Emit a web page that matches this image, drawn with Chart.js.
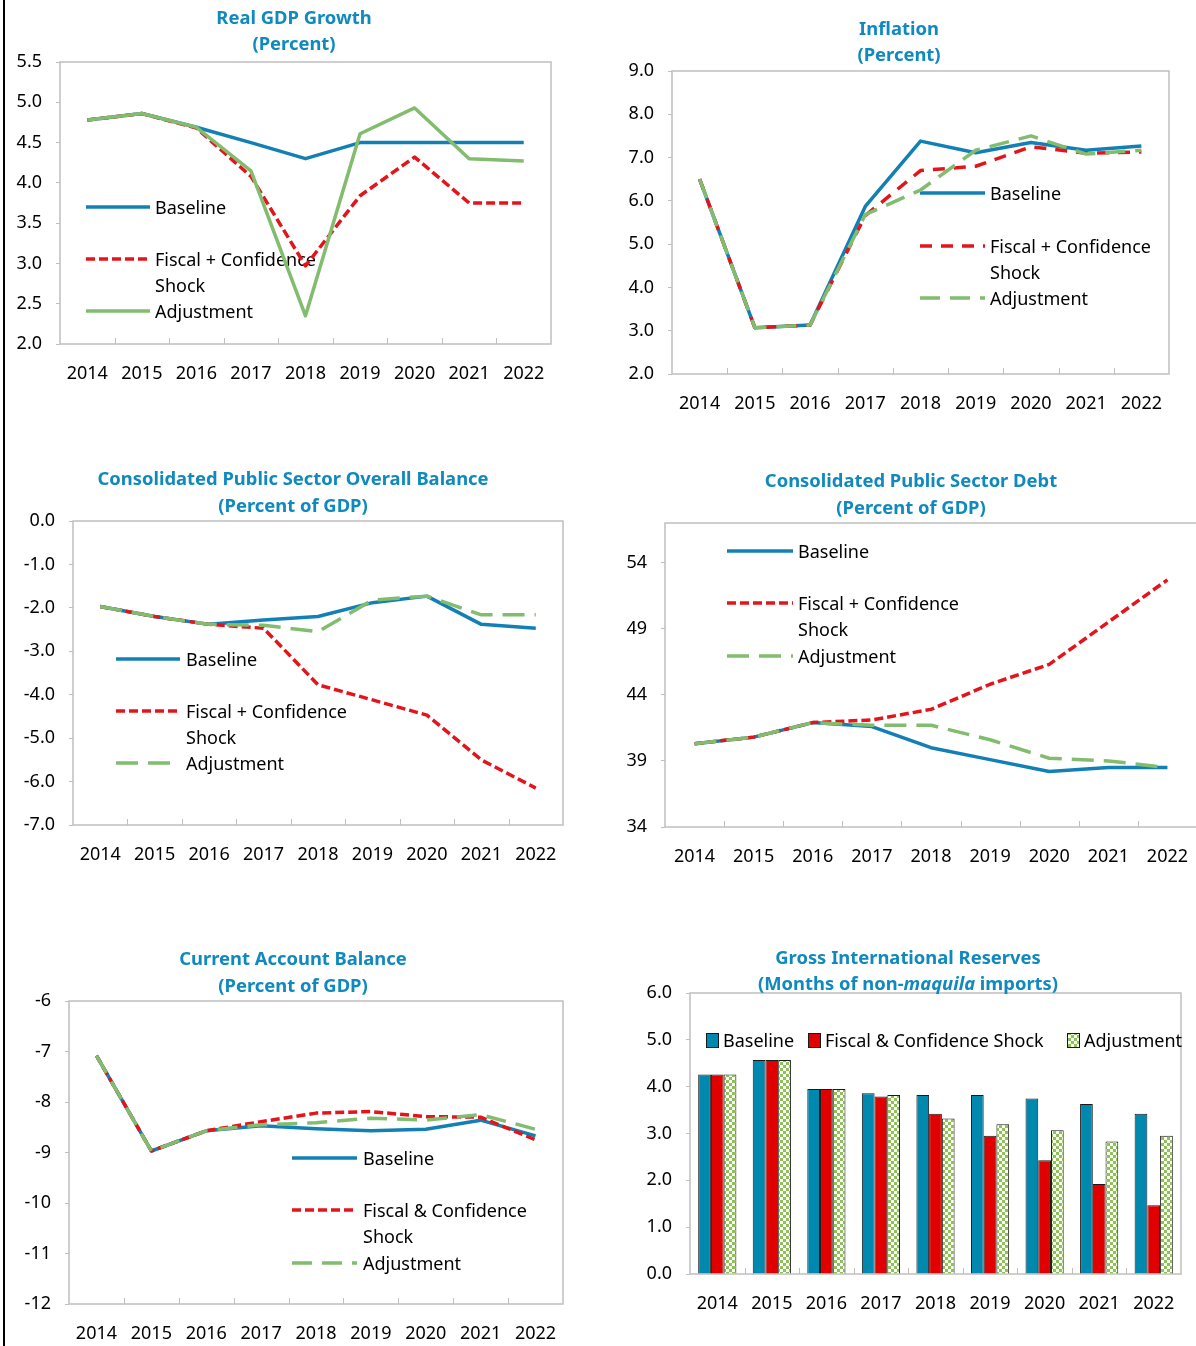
<!DOCTYPE html>
<html>
<head>
<meta charset="utf-8">
<script src="https://cdn.jsdelivr.net/npm/chart.js@4.4.1/dist/chart.umd.min.js"></script>
<style>
  body { margin: 0; background: #fff; width: 1196px; height: 1346px; overflow: hidden; position: relative; }
  canvas { position: absolute; left: 0; top: 0; }
  #edge { position: absolute; left: 3px; top: 0; width: 2px; height: 1346px; background: #000; }
</style>
</head>
<body>
<div id="edge"></div>
<canvas id="gdp" width="1210" height="1346"></canvas>
<canvas id="infl" width="1210" height="1346"></canvas>
<canvas id="bal" width="1210" height="1346"></canvas>
<canvas id="debt" width="1210" height="1346"></canvas>
<canvas id="ca" width="1210" height="1346"></canvas>
<canvas id="res" width="1210" height="1346"></canvas>
<script>
// ---- data ----
const years = ['2014', '2015', '2016', '2017', '2018', '2019', '2020', '2021', '2022'];

const namesPlus = ['Baseline', ['Fiscal + Confidence', 'Shock'], 'Adjustment'];
const namesAmp = ['Baseline', ['Fiscal & Confidence', 'Shock'], 'Adjustment'];
const namesBar = ['Baseline', 'Fiscal & Confidence Shock', 'Adjustment'];

// Real GDP growth (percent)
const gdpBase = [4.78, 4.86, 4.69, 4.50, 4.30, 4.50, 4.50, 4.50, 4.50];
const gdpShock = [4.78, 4.86, 4.68, 4.08, 2.97, 3.84, 4.32, 3.75, 3.75];
const gdpAdj = [4.78, 4.86, 4.69, 4.15, 2.35, 4.61, 4.93, 4.30, 4.27];
const gdpTicks = [2.0, 2.5, 3.0, 3.5, 4.0, 4.5, 5.0, 5.5];

// Inflation (percent)
const inflBase = [6.50, 3.07, 3.13, 5.87, 7.38, 7.11, 7.35, 7.17, 7.27];
const inflShock = [6.50, 3.07, 3.13, 5.66, 6.70, 6.80, 7.25, 7.10, 7.13];
const inflAdj = [6.50, 3.07, 3.13, 5.68, 6.25, 7.17, 7.50, 7.08, 7.17];
const inflTicks = [2, 3, 4, 5, 6, 7, 8, 9];

// Consolidated public sector overall balance (percent of GDP)
const balBase = [-1.97, -2.20, -2.38, -2.28, -2.20, -1.88, -1.73, -2.38, -2.47];
const balShock = [-1.97, -2.20, -2.38, -2.47, -3.77, -4.12, -4.47, -5.50, -6.15];
const balAdj = [-1.97, -2.20, -2.38, -2.40, -2.55, -1.82, -1.73, -2.16, -2.16];
const balTicks = [-7, -6, -5, -4, -3, -2, -1, 0];

// Consolidated public sector debt (percent of GDP)
const debtBase = [40.3, 40.8, 41.9, 41.6, 40.0, 39.1, 38.2, 38.5, 38.5];
const debtShock = [40.3, 40.8, 41.9, 42.1, 42.9, 44.8, 46.3, 49.5, 52.7];
const debtAdj = [40.3, 40.8, 41.9, 41.7, 41.7, 40.6, 39.2, 39.0, 38.5];
const debtTicks = [34, 39, 44, 49, 54];

// Current account balance (percent of GDP)
const caBase = [-7.08, -8.97, -8.57, -8.47, -8.53, -8.57, -8.54, -8.36, -8.67];
const caShock = [-7.08, -8.97, -8.57, -8.39, -8.22, -8.19, -8.29, -8.30, -8.75];
const caAdj = [-7.08, -8.97, -8.57, -8.45, -8.41, -8.32, -8.36, -8.25, -8.54];
const caTicks = [-12, -11, -10, -9, -8, -7, -6];

// Gross international reserves (months of non-maquila imports)
const resBase = [4.26, 4.57, 3.95, 3.86, 3.82, 3.82, 3.75, 3.63, 3.42];
const resShock = [4.26, 4.57, 3.95, 3.79, 3.42, 2.95, 2.43, 1.92, 1.47];
const resAdj = [4.26, 4.57, 3.95, 3.82, 3.32, 3.20, 3.07, 2.83, 2.95];
const resTicks = [0, 1, 2, 3, 4, 5, 6];

// ---- look ----
const FONT = '"Noto Sans", sans-serif';
const TITLE_COL = '#1089BE';
const BLUE = '#1380B5', RED = '#E4141B', GREEN = '#82BC6E';
const FRAME = '#BFBFBF';
const CW = 1210, CH = 1346, YW = 60, XH = 42;

function checker() {
  const c = document.createElement('canvas');
  c.width = c.height = 6;
  const g = c.getContext('2d');
  g.fillStyle = '#fff'; g.fillRect(0, 0, 6, 6);
  g.fillStyle = '#8DC355'; g.fillRect(0, 0, 3, 3); g.fillRect(3, 3, 3, 3);
  return g.createPattern(c, 'repeat');
}

// frame, inward x ticks, title and legends
const deco = {
  id: 'deco',
  beforeDatasetsDraw(chart, args, o) {
    const ctx = chart.ctx, a = chart.chartArea, xs = chart.scales.x;
    ctx.save();
    ctx.strokeStyle = FRAME; ctx.lineWidth = 1.5;
    ctx.strokeRect(a.left, a.top, a.right - a.left, a.bottom - a.top);
    ctx.lineWidth = 1;
    for (let i = 0; i < years.length - 1; i++) {
      const px = Math.round((xs.getPixelForValue(i) + xs.getPixelForValue(i + 1)) / 2) + 0.5;
      ctx.beginPath(); ctx.moveTo(px, a.bottom); ctx.lineTo(px, a.bottom - 6); ctx.stroke();
    }
    ctx.font = '18px ' + FONT; ctx.fillStyle = '#000'; ctx.textBaseline = 'middle';
    if (o.legend) {
      const L = o.legend;
      chart.data.datasets.forEach((ds, i) => {
        const y = L.ys[i];
        ctx.save();
        ctx.strokeStyle = ds.borderColor; ctx.lineWidth = ds.borderWidth;
        ctx.setLineDash(ds.borderDash || []);
        ctx.beginPath(); ctx.moveTo(L.x1, y); ctx.lineTo(L.x2, y); ctx.stroke();
        ctx.restore();
        const lines = [].concat(L.names[i]);
        lines.forEach((t, k) => ctx.fillText(t, L.tx, y + 2 + k * 26));
      });
    }
    if (o.boxes) {
      const B = o.boxes;
      chart.data.datasets.forEach((ds, i) => {
        ctx.fillStyle = ds.backgroundColor;
        ctx.fillRect(B.bx[i], B.y - 7, 12, 14);
        ctx.strokeStyle = '#1a1a1a'; ctx.lineWidth = 1;
        ctx.strokeRect(B.bx[i] + 0.5, B.y - 6.5, 12, 14);
        ctx.fillStyle = '#000';
        ctx.fillText(B.names[i], B.bx[i] + 17, B.y + 2);
      });
    }
    ctx.restore();
  },
  afterDraw(chart, args, o) {
    const ctx = chart.ctx, T = o.title;
    ctx.save();
    ctx.fillStyle = TITLE_COL; ctx.textBaseline = 'middle';
    T.lines.forEach((segs, k) => {
      const fonts = segs.map(s => (s[1] ? 'italic ' : '') + 'bold 18.4px ' + FONT);
      let w = 0;
      segs.forEach((s, j) => { ctx.font = fonts[j]; w += ctx.measureText(s[0]).width; });
      let x = T.cx - w / 2;
      segs.forEach((s, j) => {
        ctx.font = fonts[j]; ctx.fillText(s[0], x, T.ys[k] + 2);
        x += ctx.measureText(s[0]).width;
      });
    });
    ctx.restore();
  }
};

function lineSet(label, data, color, dash, order) {
  return { label, data, borderColor: color, borderWidth: 3.5, borderDash: dash, pointRadius: 0,
           tension: 0, fill: false, order, borderJoinStyle: 'round', borderCapStyle: 'butt' };
}

function makeChart(id, type, plot, yMin, yMax, yTicks, dec, datasets, deco_opts) {
  new Chart(document.getElementById(id), {
    type,
    data: { labels: years, datasets },
    options: {
      responsive: false, animation: false,
      layout: { padding: { left: plot.l - YW, top: plot.t, right: CW - plot.r, bottom: CH - plot.b - XH } },
      plugins: { legend: { display: false }, tooltip: { enabled: false }, deco: deco_opts },
      scales: {
        x: {
          offset: true,
          grid: { display: false, drawTicks: false },
          border: { display: false },
          ticks: { color: '#000', font: { family: FONT, size: 18 }, padding: 19, maxRotation: 0, autoSkip: false },
          afterFit(s) { s.height = XH; }
        },
        y: {
          min: yMin, max: yMax,
          grid: { drawOnChartArea: false, drawTicks: true, tickLength: 4, color: FRAME },
          border: { display: false },
          ticks: { color: '#000', font: { family: FONT, size: 18 }, padding: 14,
                   callback: v => Number(v).toFixed(dec) },
          afterBuildTicks(s) { s.ticks = yTicks.map(v => ({ value: v })); },
          afterFit(s) { s.width = YW; }
        }
      }
    },
    plugins: [deco]
  });
}

// Real GDP growth
makeChart('gdp', 'line', { l: 60, t: 62, r: 551, b: 344 }, 2, 5.5, gdpTicks, 1, [
  lineSet('Baseline', gdpBase, BLUE, [], 2),
  lineSet('Fiscal + Confidence Shock', gdpShock, RED, [9, 4], 1),
  lineSet('Adjustment', gdpAdj, GREEN, [], 0)
], {
  title: { cx: 294, ys: [17, 43], lines: [[['Real GDP Growth']], [['(Percent)']]] },
  legend: { x1: 86, x2: 150, tx: 155, ys: [207, 259, 311], names: namesPlus }
});

// Inflation
makeChart('infl', 'line', { l: 672, t: 71, r: 1169, b: 374 }, 2, 9, inflTicks, 1, [
  lineSet('Baseline', inflBase, BLUE, [], 2),
  lineSet('Fiscal + Confidence Shock', inflShock, RED, [12, 9], 1),
  lineSet('Adjustment', inflAdj, GREEN, [20, 10], 0)
], {
  title: { cx: 899, ys: [28, 54], lines: [[['Inflation']], [['(Percent)']]] },
  legend: { x1: 920, x2: 985, tx: 990, ys: [193, 246, 298], names: namesPlus }
});

// Overall balance
makeChart('bal', 'line', { l: 73, t: 521, r: 563, b: 825 }, -7, 0, balTicks, 1, [
  lineSet('Baseline', balBase, BLUE, [], 2),
  lineSet('Fiscal + Confidence Shock', balShock, RED, [9, 4], 1),
  lineSet('Adjustment', balAdj, GREEN, [22, 10], 0)
], {
  title: { cx: 293, ys: [478, 505], lines: [[['Consolidated Public Sector Overall Balance']], [['(Percent of GDP)']]] },
  legend: { x1: 116, x2: 180, tx: 186, ys: [659, 711, 763], names: namesPlus }
});

// Debt
makeChart('debt', 'line', { l: 665, t: 523, r: 1197, b: 827 }, 34, 57, debtTicks, 0, [
  lineSet('Baseline', debtBase, BLUE, [], 2),
  lineSet('Fiscal + Confidence Shock', debtShock, RED, [9, 4], 1),
  lineSet('Adjustment', debtAdj, GREEN, [22, 10], 0)
], {
  title: { cx: 911, ys: [480, 507], lines: [[['Consolidated Public Sector Debt']], [['(Percent of GDP)']]] },
  legend: { x1: 727, x2: 793, tx: 798, ys: [551, 603, 656], names: namesPlus }
});

// Current account
makeChart('ca', 'line', { l: 69, t: 1001, r: 563, b: 1304 }, -12, -6, caTicks, 0, [
  lineSet('Baseline', caBase, BLUE, [], 2),
  lineSet('Fiscal & Confidence Shock', caShock, RED, [9, 4], 1),
  lineSet('Adjustment', caAdj, GREEN, [20, 10], 0)
], {
  title: { cx: 293, ys: [958, 985], lines: [[['Current Account Balance']], [['(Percent of GDP)']]] },
  legend: { x1: 292, x2: 357, tx: 363, ys: [1158, 1210, 1263], names: namesAmp }
});

// Reserves
const barStyle = { borderWidth: 1, borderColor: '#1a1a1a', categoryPercentage: 0.7, barPercentage: 1.0 };
makeChart('res', 'bar', { l: 690, t: 993, r: 1181, b: 1274 }, 0, 6, resTicks, 1, [
  Object.assign({ label: namesBar[0], data: resBase, backgroundColor: '#0088AF' }, barStyle),
  Object.assign({ label: namesBar[1], data: resShock, backgroundColor: '#E00000' }, barStyle),
  Object.assign({ label: namesBar[2], data: resAdj, backgroundColor: checker() }, barStyle)
], {
  title: { cx: 908, ys: [957, 983], lines: [[['Gross International Reserves']],
           [['(Months of non-'], ['maquila', true], [' imports)']]] },
  boxes: { y: 1040, bx: [706, 808, 1067], names: namesBar }
});
</script>
</body>
</html>
